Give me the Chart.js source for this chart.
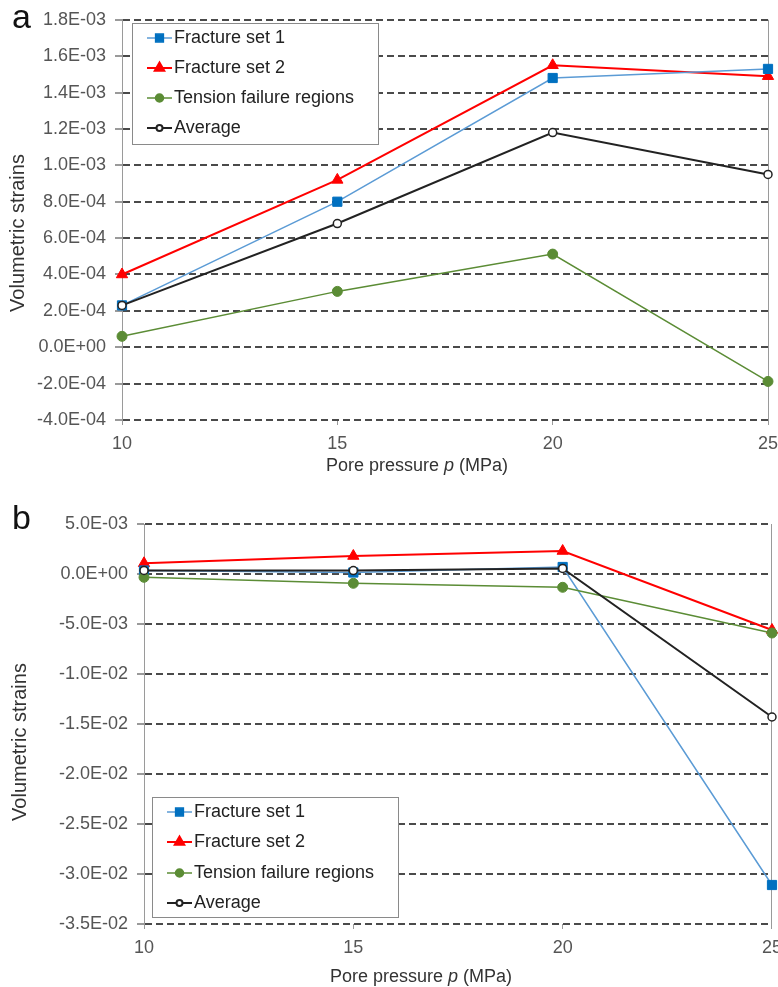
<!DOCTYPE html>
<html>
<head>
<meta charset="utf-8">
<script src="https://cdn.jsdelivr.net/npm/chart.js@4.4.1/dist/chart.umd.min.js"></script>
<style>
  html, body { margin: 0; padding: 0; background: #fff; overflow: hidden; width: 778px; height: 987px; }
  .panel { position: absolute; left: 0; width: 790px; }
  #wrapA { top: 0; height: 485px; }
  #wrapB { top: 490px; height: 497px; }
</style>
</head>
<body>
<div class="panel" id="wrapA"><canvas id="chartA"></canvas></div>
<div class="panel" id="wrapB"><canvas id="chartB"></canvas></div>
<script>
// ----- DATA -----
const pressure = [10, 15, 20, 25];
const seriesNames = ['Fracture set 1', 'Fracture set 2', 'Tension failure regions', 'Average'];

// panel a
const aFracture1 = [2.3e-4, 8.0e-4, 1.48e-3, 1.53e-3];
const aFracture2 = [4.0e-4, 9.2e-4, 1.55e-3, 1.49e-3];
const aTension = [6.0e-5, 3.07e-4, 5.12e-4, -1.88e-4];
const aAverage = [2.3e-4, 6.8e-4, 1.18e-3, 9.5e-4];

// panel b
const bFracture1 = [3.5e-4, 1.5e-4, 7.0e-4, -3.11e-2];
const bFracture2 = [1.07e-3, 1.8e-3, 2.3e-3, -5.6e-3];
const bTension = [-3.3e-4, -9.3e-4, -1.33e-3, -5.9e-3];
const bAverage = [3.6e-4, 3.4e-4, 5.6e-4, -1.43e-2];

const FONT = "'Liberation Sans', Arial, sans-serif";
Chart.defaults.font.family = FONT;
Chart.defaults.font.size = 18;
Chart.defaults.color = '#555';

// 1.8E-03 style labels
function sci(v) {
  if (Math.abs(v) < 1e-12) v = 0;
  const parts = v.toExponential(1).toUpperCase().split('E');
  const e = parseInt(parts[1], 10);
  const sign = e < 0 ? '-' : '+';
  return parts[0] + 'E' + sign + String(Math.abs(e)).padStart(2, '0');
}

function pts(vals) {
  return pressure.map((x, i) => ({ x: x, y: vals[i] }));
}

function makeDatasets(f1, f2, tf, avg) {
  return [
    { label: seriesNames[0], data: pts(f1), borderColor: '#5b9bd5', borderWidth: 1.5,
      pointStyle: 'rect', pointRadius: 6.5, pointBackgroundColor: '#0070c0', pointBorderColor: '#0070c0',
      pointBorderWidth: 1, legendColor: '#0070c0', order: 3 },
    { label: seriesNames[1], data: pts(f2), borderColor: '#ff0000', borderWidth: 2,
      pointStyle: 'triangle', pointRadius: 6.5, pointBackgroundColor: '#ff0000', pointBorderColor: '#ff0000',
      pointBorderWidth: 1, legendColor: '#ff0000', order: 4 },
    { label: seriesNames[2], data: pts(tf), borderColor: '#5b8c35', borderWidth: 1.5,
      pointStyle: 'circle', pointRadius: 5, pointBackgroundColor: '#5b8c35', pointBorderColor: '#5b8c35',
      pointBorderWidth: 1, legendColor: '#5b8c35', order: 2 },
    { label: seriesNames[3], data: pts(avg), borderColor: '#222', borderWidth: 2,
      pointStyle: 'circle', pointRadius: 4, pointBackgroundColor: '#fff', pointBorderColor: '#222',
      pointBorderWidth: 1.5, legendColor: '#fff', order: 1 }
  ];
}

// titles, panel letter and inset legend
function makeDeco(cfg) {
  return {
    id: 'deco',
    afterDraw(chart) {
      const ctx = chart.ctx;
      ctx.save();
      // panel letter
      ctx.fillStyle = '#111';
      ctx.font = '34px ' + FONT;
      ctx.textBaseline = 'alphabetic';
      ctx.textAlign = 'left';
      ctx.fillText(cfg.letter, cfg.letterX, cfg.letterY);

      // y title
      ctx.fillStyle = '#333';
      ctx.font = '20px ' + FONT;
      ctx.save();
      ctx.translate(cfg.yTitleX, cfg.yTitleY);
      ctx.rotate(-Math.PI / 2);
      ctx.textAlign = 'center';
      ctx.textBaseline = 'middle';
      ctx.fillText('Volumetric strains', 0, 0);
      ctx.restore();

      // x title with italic p
      const pieces = [['Pore pressure ', ''], ['p', 'italic '], [' (MPa)', '']];
      let total = 0;
      pieces.forEach(p => { ctx.font = p[1] + '18px ' + FONT; total += ctx.measureText(p[0]).width; });
      let x = cfg.xTitleX - total / 2;
      ctx.textAlign = 'left';
      ctx.textBaseline = 'middle';
      pieces.forEach(p => {
        ctx.font = p[1] + '18px ' + FONT;
        ctx.fillText(p[0], x, cfg.xTitleY);
        x += ctx.measureText(p[0]).width;
      });

      // legend box
      const b = cfg.legend;
      ctx.fillStyle = '#fff';
      ctx.fillRect(b.x, b.y, b.w, b.h);
      ctx.strokeStyle = '#8a8a8a';
      ctx.lineWidth = 1;
      ctx.strokeRect(b.x + 0.5, b.y + 0.5, b.w, b.h);
      chart.data.datasets.forEach((ds, i) => {
        const y = b.rows[i];
        ctx.strokeStyle = ds.borderColor;
        ctx.lineWidth = ds.borderWidth;
        ctx.beginPath();
        ctx.moveTo(b.symX, y);
        ctx.lineTo(b.symX + 25, y);
        ctx.stroke();
        ctx.fillStyle = ds.legendColor;
        ctx.strokeStyle = ds.pointBorderColor;
        Chart.helpers.drawPoint(ctx, {
          pointStyle: ds.pointStyle, rotation: 0,
          radius: ds.pointRadius - 1, borderWidth: ds.pointBorderWidth
        }, b.symX + 12.5, y);
        ctx.fillStyle = '#222';
        ctx.font = '18px ' + FONT;
        ctx.textAlign = 'left';
        ctx.textBaseline = 'middle';
        ctx.fillText(ds.label, b.textX, y);
      });
      ctx.restore();
    }
  };
}

function makeChart(id, datasets, yMin, yMax, yStep, pad, yWidth, xHeight, deco) {
  return new Chart(document.getElementById(id), {
    type: 'line',
    data: { datasets: datasets },
    options: {
      responsive: true,
      maintainAspectRatio: false,
      animation: false,
      layout: { padding: pad },
      datasets: { line: { clip: false, tension: 0 } },
      plugins: { legend: { display: false }, tooltip: { enabled: false } },
      scales: {
        x: {
          type: 'linear', min: 10, max: 25,
          ticks: { stepSize: 5, padding: 8, color: '#555' },
          grid: {
            color: c => (c.tick && c.tick.value === 25) ? '#9a9a9a' : 'rgba(0,0,0,0)',
            tickColor: '#9a9a9a', tickLength: 5, lineWidth: 1
          },
          border: { display: false },
          afterFit: s => { s.height = xHeight; }
        },
        y: {
          min: yMin, max: yMax,
          ticks: { stepSize: yStep, padding: 9, color: '#555', callback: v => sci(v) },
          grid: { color: '#4a4a4a', lineWidth: 2, tickColor: '#9a9a9a', tickLength: 7, tickBorderDash: [] },
          // in v4 border.dash sets the dash of the grid lines
          border: { display: true, color: '#9a9a9a', width: 1, dash: [7, 4] },
          afterFit: s => { s.width = yWidth; }
        }
      }
    },
    plugins: [makeDeco(deco)]
  });
}

makeChart('chartA', makeDatasets(aFracture1, aFracture2, aTension, aAverage),
  -4e-4, 1.8e-3, 2e-4, { top: 19, right: 22, bottom: 0, left: 0 }, 122, 65, {
    letter: 'a', letterX: 12, letterY: 28,
    yTitleX: 18, yTitleY: 233,
    xTitleX: 417, xTitleY: 466,
    legend: { x: 132, y: 23, w: 246, h: 121, rows: [38, 68, 98, 128], symX: 147, textX: 174 }
  });

makeChart('chartB', makeDatasets(bFracture1, bFracture2, bTension, bAverage),
  -3.5e-2, 5e-3, 5e-3, { top: 34, right: 18, bottom: 0, left: 0 }, 144, 63, {
    letter: 'b', letterX: 12, letterY: 39,
    yTitleX: 20, yTitleY: 252,
    xTitleX: 421, xTitleY: 487,
    legend: { x: 152, y: 307, w: 246, h: 120, rows: [322, 352, 383, 413], symX: 167, textX: 194 }
  });
</script>
</body>
</html>
